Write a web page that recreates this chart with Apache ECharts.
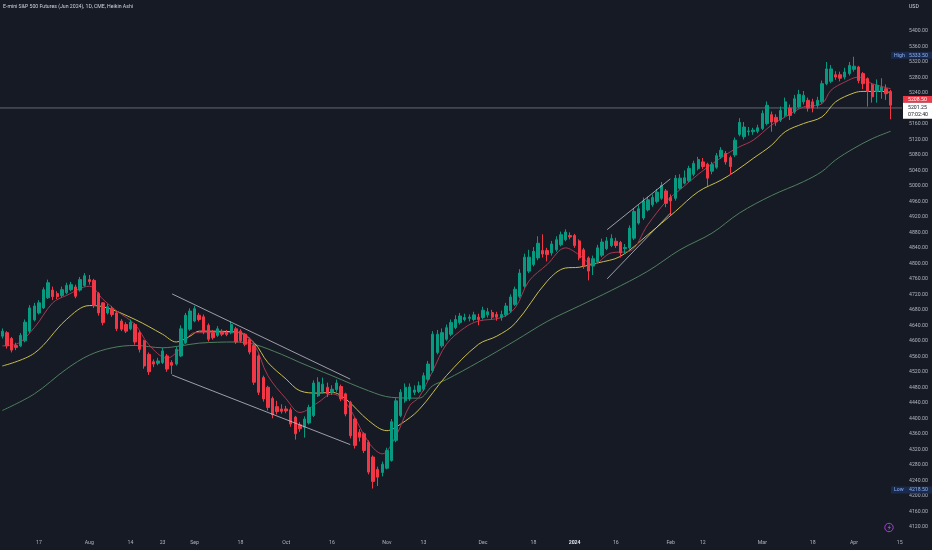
<!DOCTYPE html>
<html><head><meta charset="utf-8">
<script src="https://cdn.jsdelivr.net/npm/echarts/dist/echarts.min.js"></script>
<style>html,body{margin:0;padding:0;background:#161a25;}#c{width:932px;height:550px;}</style>
</head><body><div id="c"></div>
<script>
const dates = [
'2023-07-05','2023-07-06','2023-07-07','2023-07-10','2023-07-11','2023-07-12','2023-07-13','2023-07-14','2023-07-17','2023-07-18','2023-07-19','2023-07-20','2023-07-21','2023-07-24','2023-07-25','2023-07-26','2023-07-27','2023-07-28','2023-07-31',
'2023-08-01','2023-08-02','2023-08-03','2023-08-04','2023-08-07','2023-08-08','2023-08-09','2023-08-10','2023-08-11','2023-08-14','2023-08-15','2023-08-16','2023-08-17','2023-08-18','2023-08-21','2023-08-22','2023-08-23','2023-08-24','2023-08-25','2023-08-28','2023-08-29','2023-08-30','2023-08-31',
'2023-09-01','2023-09-05','2023-09-06','2023-09-07','2023-09-08','2023-09-11','2023-09-12','2023-09-13','2023-09-14','2023-09-15','2023-09-18','2023-09-19','2023-09-20','2023-09-21','2023-09-22','2023-09-25','2023-09-26','2023-09-27','2023-09-28','2023-09-29',
'2023-10-02','2023-10-03','2023-10-04','2023-10-05','2023-10-06','2023-10-09','2023-10-10','2023-10-11','2023-10-12','2023-10-13','2023-10-16','2023-10-17','2023-10-18','2023-10-19','2023-10-20','2023-10-23','2023-10-24','2023-10-25','2023-10-26','2023-10-27','2023-10-30','2023-10-31',
'2023-11-01','2023-11-02','2023-11-03','2023-11-06','2023-11-07','2023-11-08','2023-11-09','2023-11-10','2023-11-13','2023-11-14','2023-11-15','2023-11-16','2023-11-17','2023-11-20','2023-11-21','2023-11-22','2023-11-24','2023-11-27','2023-11-28','2023-11-29','2023-11-30',
'2023-12-01','2023-12-04','2023-12-05','2023-12-06','2023-12-07','2023-12-08','2023-12-11','2023-12-12','2023-12-13','2023-12-14','2023-12-15','2023-12-18','2023-12-19','2023-12-20','2023-12-21','2023-12-22','2023-12-26','2023-12-27','2023-12-28','2023-12-29',
'2024-01-02','2024-01-03','2024-01-04','2024-01-05','2024-01-08','2024-01-09','2024-01-10','2024-01-11','2024-01-12','2024-01-16','2024-01-17','2024-01-18','2024-01-19','2024-01-22','2024-01-23','2024-01-24','2024-01-25','2024-01-26','2024-01-29','2024-01-30','2024-01-31',
'2024-02-01','2024-02-02','2024-02-05','2024-02-06','2024-02-07','2024-02-08','2024-02-09','2024-02-12','2024-02-13','2024-02-14','2024-02-15','2024-02-16','2024-02-20','2024-02-21','2024-02-22','2024-02-23','2024-02-26','2024-02-27','2024-02-28','2024-02-29',
'2024-03-01','2024-03-04','2024-03-05','2024-03-06','2024-03-07','2024-03-08','2024-03-11','2024-03-12','2024-03-13','2024-03-14','2024-03-15','2024-03-18','2024-03-19','2024-03-20','2024-03-21','2024-03-22','2024-03-25','2024-03-26','2024-03-27','2024-03-28',
'2024-04-01','2024-04-02','2024-04-03','2024-04-04','2024-04-05','2024-04-08','2024-04-09','2024-04-10','2024-04-11','2024-04-12','2024-04-15'];

const haOpen = [
4612,4621,4606,4588,4587,4600,4625,4654,4672,4685,
4711,4731,4722,4717,4724,4732,4739,4731,4743,4758,
4756,4722,4698,4672,4683,4672,4651,4642,4631,4642,
4621,4600,4565,4546,4542,4544,4561,4544,4540,4561,
4595,4630,4651,4666,4662,4640,4621,4614,4623,4621,
4621,4631,4625,4617,4604,4588,4561,4505,4480,4451,
4430,4424,4424,4422,4403,4383,4377,4388,4407,4458,
4469,4480,4467,4474,4482,4463,4441,4398,4364,4360,
4338,4300,4268,4260,4271,4291,4343,4407,4445,4450,
4467,4469,4475,4501,4523,4570,4587,4604,4617,4634,
4647,4655,4658,4655,4661,4660,4667,4673,4668,4660,
4667,4677,4694,4715,4741,4780,4797,4814,4833,4833,
4827,4835,4848,4861,4872,4872,4858,4835,4814,4793,
4804,4821,4838,4846,4857,4854,4838,4840,4865,4904,
4917,4938,4951,4960,4968,4987,4970,4968,4994,5007,
5013,5030,5045,5062,5056,5038,5048,5075,5084,5073,
5080,5133,5127,5140,5140,5141,5148,5161,5184,5177,
5170,5182,5201,5191,5204,5217,5221,5217,5208,5217,
5264,5270,5287,5287,5281,5290,5301,5307,5290,5277,
5261,5244,5244,5251,5244];
const haClose = [
4625,4587,4576,4583,4614,4648,4685,4690,4698,4732,
4750,4714,4714,4732,4743,4745,4715,4758,4768,4753,
4691,4672,4647,4688,4668,4631,4630,4625,4648,4597,
4578,4535,4520,4540,4548,4574,4527,4537,4578,4631,
4666,4677,4683,4655,4623,4604,4608,4631,4617,4616,
4642,4597,4600,4591,4571,4493,4467,4450,4428,4409,
4417,4418,4419,4385,4360,4373,4398,4428,4491,4493,
4488,4463,4475,4491,4450,4411,4355,4330,4351,4317,
4261,4237,4248,4281,4317,4391,4445,4467,4480,4481,
4473,4484,4510,4540,4617,4617,4621,4634,4647,4655,
4664,4660,4661,4667,4655,4679,4675,4661,4661,4668,
4690,4713,4733,4775,4816,4816,4831,4852,4824,4823,
4850,4861,4874,4881,4868,4846,4814,4793,4780,4812,
4840,4855,4858,4864,4846,4827,4841,4891,4934,4941,
4961,4964,4970,4984,5001,4955,4961,5020,5020,5021,
5045,5058,5068,5050,5020,5055,5078,5092,5062,5050,
5118,5164,5152,5142,5144,5150,5187,5208,5165,5165,
5195,5217,5182,5225,5236,5234,5201,5201,5221,5264,
5302,5302,5281,5278,5294,5311,5309,5272,5264,5244,
5230,5260,5255,5238,5208.5];
const haLow = [
4606,4580,4570,4576,4584,4596,4620,4650,4668,4682,
4708,4705,4708,4712,4720,4728,4710,4727,4740,4745,
4685,4665,4640,4668,4662,4625,4625,4620,4627,4590,
4570,4528,4512,4532,4537,4540,4520,4514,4536,4558,
4592,4626,4648,4650,4617,4598,4603,4610,4612,4612,
4617,4592,4595,4586,4565,4486,4460,4443,4420,4400,
4410,4412,4413,4378,4345,4365,4350,4384,4403,4455,
4464,4455,4460,4468,4444,4405,4348,4322,4340,4310,
4255,4218.5,4225,4250,4268,4288,4338,4403,4440,4445,
4460,4465,4470,4497,4518,4565,4582,4600,4612,4630,
4642,4650,4650,4650,4640,4655,4660,4655,4652,4652,
4662,4672,4690,4710,4737,4775,4792,4808,4815,4805,
4820,4830,4844,4857,4862,4840,4808,4786,4756,4770,
4800,4816,4834,4842,4840,4815,4825,4835,4860,4900,
4912,4934,4946,4955,4964,4945,4925,4962,4990,5004,
5010,5025,5040,5044,5000,5030,5044,5070,5055,5028,
5075,5128,5120,5130,5132,5136,5144,5156,5140,5155,
5165,5178,5170,5186,5200,5210,5192,5190,5200,5212,
5260,5265,5274,5270,5275,5285,5295,5265,5250,5205,
5215,5215,5225,5222,5172];
const haHigh = [
4632,4625,4610,4595,4620,4655,4692,4698,4705,4738,
4758,4740,4728,4740,4750,4752,4745,4765,4775,4770,
4760,4726,4700,4695,4690,4676,4656,4648,4655,4646,
4625,4603,4570,4552,4556,4582,4566,4550,4585,4640,
4672,4684,4690,4672,4668,4645,4628,4638,4630,4628,
4650,4636,4630,4620,4608,4592,4565,4510,4484,4456,
4445,4436,4432,4428,4406,4390,4405,4435,4498,4506,
4505,4492,4485,4500,4487,4466,4445,4402,4372,4364,
4343,4304,4275,4288,4324,4398,4452,4475,4490,4490,
4485,4495,4518,4548,4625,4628,4632,4642,4655,4666,
4672,4670,4668,4675,4670,4688,4685,4680,4675,4678,
4698,4720,4740,4785,4825,4835,4842,4870,4875,4840,
4858,4870,4882,4888,4880,4876,4862,4840,4818,4820,
4848,4864,4868,4875,4866,4858,4850,4898,4942,4950,
4970,4972,4978,4992,5010,4992,4978,5028,5030,5040,
5052,5065,5075,5072,5060,5062,5085,5100,5090,5078,
5125,5175,5165,5152,5150,5158,5195,5218,5192,5185,
5205,5228,5210,5235,5248,5245,5228,5225,5230,5272,
5320,5312,5296,5295,5305,5320,5333.5,5310,5294,5280,
5265,5275,5278,5262,5248];

// moving averages: [bar index, price]
const maFast = [[0,4587],[3,4591],[7,4634],[11,4698],[14,4717],[19,4741],[22,4707],[25,4677],[29,4642],[32,4590],[36,4555],[39,4582],[42,4621],[47,4621],[52,4621],[55,4591],[58,4510],[62,4450],[65,4415],[69,4441],[72,4463],[75,4441],[80,4338],[83,4308],[86,4355],[89,4433],[91,4454],[94,4522],[97,4591],[101,4634],[104,4651],[109,4660],[112,4685],[115,4754],[119,4797],[123,4840],[126,4822],[129,4797],[133,4827],[137,4831],[141,4900],[145,4960],[148,4990],[152,5030],[156,5065],[159,5088],[161,5101],[164,5118],[168,5157],[171,5178],[175,5204],[179,5212],[181,5247],[184,5268],[187,5281],[190,5264],[194,5251]];
const maMid = [[0,4535],[7,4568],[14,4655],[19,4691],[22,4688],[29,4655],[35,4617],[38,4597],[41,4612],[43,4625],[51,4623],[55,4595],[58,4544],[62,4501],[65,4471],[69,4465],[72,4467],[75,4450],[80,4394],[84,4368],[87,4385],[91,4422],[97,4510],[104,4591],[108,4612],[112,4645],[119,4754],[123,4788],[126,4790],[130,4801],[135,4818],[141,4874],[147,4934],[152,4985],[157,5015],[160,5037],[164,5071],[168,5105],[171,5140],[175,5161],[179,5178],[182,5217],[186,5240],[188,5244],[192,5244],[194,5241]];
const maSlow = [[0,4420],[7,4463],[14,4527],[19,4563],[24,4582],[29,4588],[35,4582],[39,4587],[43,4594],[51,4597],[55,4591],[61,4565],[65,4544],[72,4510],[80,4471],[85,4454],[91,4452],[94,4484],[97,4500],[104,4545],[112,4600],[119,4650],[126,4690],[133,4730],[141,4780],[148,4835],[155,4878],[161,4930],[168,4975],[175,5011],[179,5037],[182,5067],[186,5097],[190,5122],[194,5141]];

// drawn trend lines: [bar index, price]
const trendA = [[37.1,4721],[76,4501]];
const trendB = [[37.1,4511.5],[76,4332]];
const trendC = [[132.1,4887],[145.9,5018]];
const trendD = [[132.1,4760],[145.9,4929.5]];

const tickIdx  = [8,19,28,35,42,52,62,72,84,92,105,116,125,134,146,153,166,177,186,196];
const tickText = ['17','Aug','14','23','Sep','18','Oct','16','Nov','13','Dec','18','2024','16','Feb','12','Mar','18','Apr','15'];

const priceNow = 5201.25;
const haLast = 5208.50;
const highVal = 5333.50;
const lowVal = 4218.50;
const countdown = '07:02:40';
const title = 'E-mini S&P 500 Futures (Jun 2024), 1D, CME, Heikin Ashi';

const FONT = 'Roboto, "Liberation Sans", sans-serif';
const AXC = '#b2b5be';
const chart = echarts.init(document.getElementById('c'));
const candles = haOpen.map((o,i)=>[o, haClose[i], haLow[i], haHigh[i]]);
const nCat = dates.length;

function lineSeries(data, color, w, smooth, z){
  return {type:'line', xAxisIndex:1, yAxisIndex:0, data:data, showSymbol:false, symbol:'none',
    smooth:smooth, lineStyle:{color:color, width:w}, silent:true, z:z};
}

const option = {
  backgroundColor:'#161a25',
  animation:false,
  grid:{left:-1.3, right:30, top:-2.42, bottom:7.8},
  xAxis:[{
    type:'category', data:dates, boundaryGap:true,
    axisLine:{show:false}, axisTick:{show:false}, splitLine:{show:false},
    axisLabel:{
      interval:(i)=>tickIdx.indexOf(i)>=0,
      formatter:(v,i)=>{const k=tickIdx.indexOf(i); if(k<0) return ''; const t=tickText[k]; return t==='2024'?'{b|'+t+'}':t;},
      color:AXC, fontSize:5.2, fontFamily:FONT, margin:-2,
      rich:{b:{color:'#e0e3eb', fontSize:5.2, fontWeight:'bold', fontFamily:FONT}}
    }
  },{
    type:'value', min:-0.5, max:nCat-0.5, show:false
  }],
  yAxis:{
    type:'value', position:'right', min:4080, max:5480, interval:40,
    axisLine:{show:false}, axisTick:{show:false}, splitLine:{show:false},
    axisLabel:{formatter:v=>(v>5400?'':v.toFixed(2)), color:AXC, fontSize:5.2, fontFamily:FONT, margin:7, align:'left',
      showMinLabel:false, showMaxLabel:false}
  },
  series:[
    {type:'line', xAxisIndex:1, yAxisIndex:0, data:[[-0.5,priceNow],[nCat-0.5,priceNow]], symbol:'none',
     lineStyle:{color:'rgba(178,181,190,0.5)', width:1}, silent:true, z:1},
    lineSeries(maSlow,'#4f7f5e',1,0.35,2),
    lineSeries(maMid,'#c9bd4c',1,0.35,3),
    lineSeries(maFast,'#a33a52',1,0.35,4),
    {type:'candlestick', xAxisIndex:0, yAxisIndex:0, data:candles, barWidth:2.9, z:5,
     itemStyle:{color:'#089981', color0:'#f23645', borderColor:'#089981', borderColor0:'#f23645', borderWidth:1}},
    lineSeries(trendA,'rgba(200,203,210,0.75)',1,false,6),
    lineSeries(trendB,'rgba(200,203,210,0.75)',1,false,6),
    lineSeries(trendC,'rgba(200,203,210,0.75)',1,false,6),
    lineSeries(trendD,'rgba(200,203,210,0.75)',1,false,6)
  ]
};
chart.setOption(option);

const yp = v => chart.convertToPixel({yAxisIndex:0}, v);
const txt = (x,y,s,fill,align,bold) => ({type:'text', z:100, x:x, y:y,
  style:{text:s, fill:fill, font:(bold?'bold ':'')+'5.2px '+FONT, align:align||'left', verticalAlign:'middle',
         textAlign:align||'left', textVerticalAlign:'middle'}});
const rect = (x,y,w,h,fill) => ({type:'rect', z:99, shape:{x:x,y:y,width:w,height:h}, style:{fill:fill}});

const yNow = yp(priceNow), yHi = yp(highVal), yLo = yp(lowVal);
const g = [
  txt(3,6.7,title,'#d1d4dc'),
  txt(909,7,'USD','#d1d4dc'),
  rect(891,yHi-5,41,7,'#1a2a4c'), txt(894,yHi-1.5,'High','#8fb2f5'), txt(909,yHi-1.5,highVal.toFixed(2),'#8fb2f5'),
  rect(891,yLo-2,41,7,'#1a2a4c'), txt(894,yLo+1.5,'Low','#8fb2f5'), txt(909,yLo+1.5,lowVal.toFixed(2),'#8fb2f5'),
  rect(903,yNow-12,29,6.8,'#f23645'), txt(908,yNow-8.6,haLast.toFixed(2),'#ffffff'),
  rect(903,yNow-5.2,29,16,'#ffffff'), txt(908,yNow-0.3,priceNow.toFixed(2),'#131722'), txt(908,yNow+6.6,countdown,'#131722'),
  {type:'circle', z:100, shape:{cx:889,cy:527.5,r:4.2}, style:{fill:'none', stroke:'#a63fd6', lineWidth:1}},
  {type:'polygon', z:100, shape:{points:[[890.4,524.6],[887.6,528.1],[889.2,528.1],[888.2,530.6],[891,526.9],[889.4,526.9]]}, style:{fill:'#a63fd6'}}
];
chart.setOption({graphic:g});
</script></body></html>
